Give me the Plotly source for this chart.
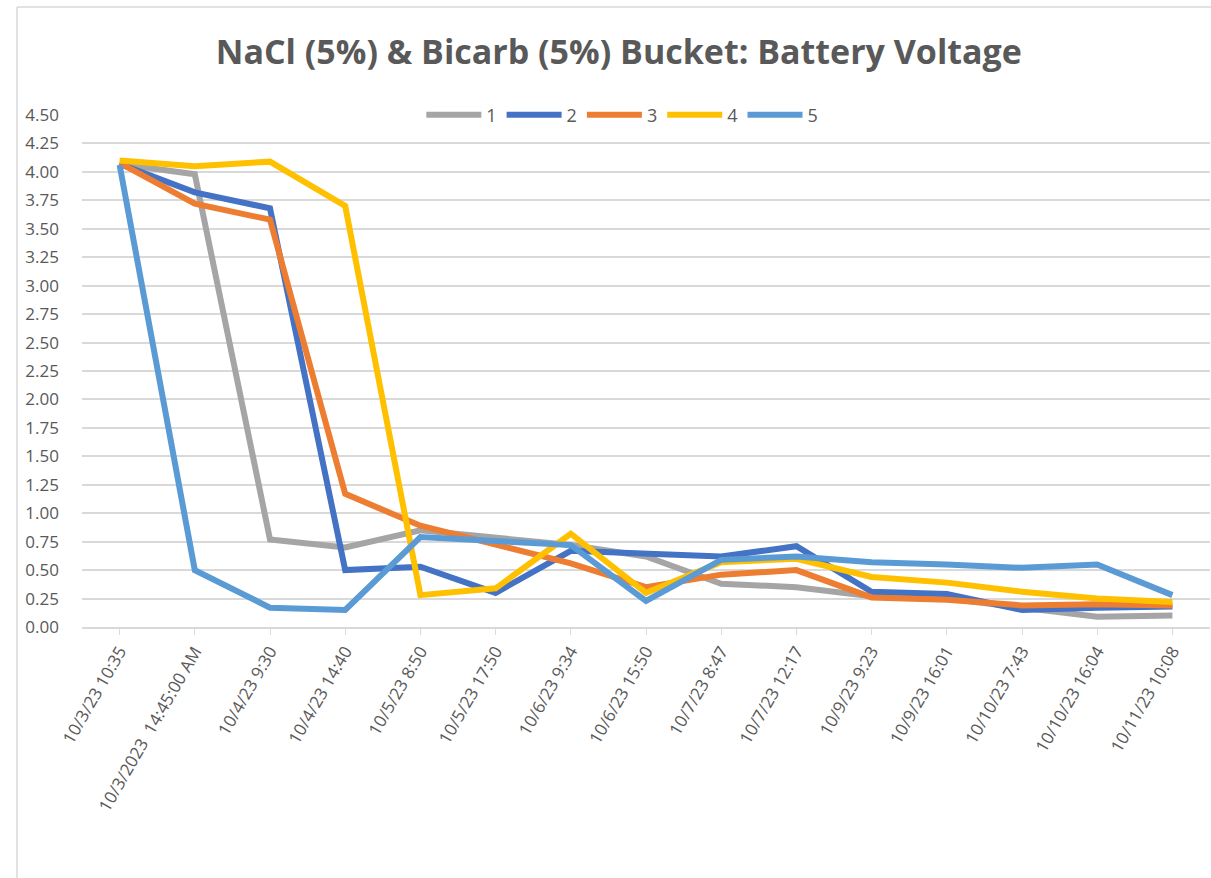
import plotly.graph_objects as go

# category labels along the x axis
timestamps = ["10/3/23 10:35", "10/3/2023  14:45:00 AM", "10/4/23 9:30", "10/4/23 14:40",
              "10/5/23 8:50", "10/5/23 17:50", "10/6/23 9:34", "10/6/23 15:50",
              "10/7/23 8:47", "10/7/23 12:17", "10/9/23 9:23", "10/9/23 16:01",
              "10/10/23 7:43", "10/10/23 16:04", "10/11/23 10:08"]

# battery voltage per sensor
v1 = [4.07, 3.98, 0.77, 0.70, 0.85, 0.78, 0.72, 0.62, 0.38, 0.35, 0.27, 0.25, 0.17, 0.09, 0.10]
v2 = [4.07, 3.82, 3.68, 0.50, 0.53, 0.30, 0.67, 0.65, 0.62, 0.71, 0.31, 0.29, 0.15, 0.17, 0.18]
v3 = [4.08, 3.72, 3.58, 1.17, 0.89, 0.72, 0.56, 0.35, 0.46, 0.50, 0.26, 0.24, 0.19, 0.20, 0.19]
v4 = [4.10, 4.05, 4.09, 3.70, 0.28, 0.34, 0.82, 0.30, 0.57, 0.60, 0.44, 0.39, 0.31, 0.25, 0.22]
v5 = [4.06, 0.50, 0.17, 0.15, 0.79, 0.76, 0.72, 0.23, 0.59, 0.62, 0.57, 0.55, 0.52, 0.55, 0.28]

seriesNames = ["1", "2", "3", "4", "5"]
seriesColors = ["#A5A5A5", "#4472C4", "#ED7D31", "#FFC000", "#5B9BD5"]

fig = go.Figure()
for name, vals, col in zip(seriesNames, [v1, v2, v3, v4, v5], seriesColors):
    fig.add_trace(go.Scatter(x=timestamps, y=vals, name=name, mode="lines",
                             line=dict(color=col, width=6)))

grey = "#595959"
fig.update_layout(
    width=1211, height=878,
    margin=dict(l=82, r=1, t=115, b=251),
    paper_bgcolor="white", plot_bgcolor="white",
    font=dict(family="Open Sans", color=grey),
    title=dict(text="<b>NaCl (5%) & Bicarb (5%) Bucket: Battery Voltage</b>",
               font=dict(size=34, color=grey, family="Open Sans"),
               x=0.511, xref="container", xanchor="center",
               y=1 - 52 / 878, yref="container", yanchor="middle"),
    legend=dict(orientation="h", x=0.479, xanchor="center", y=1.0, yanchor="middle",
                bgcolor="rgba(0,0,0,0)", font=dict(size=18, color=grey),
                itemwidth=55, tracegroupgap=0),
    showlegend=True,
)

fig.update_xaxes(type="category", range=[-0.5, 14.5], tickangle=-60,
                 tickfont=dict(size=17, color=grey),
                 showgrid=False, showline=True, linecolor="#D9D9D9", linewidth=1.5,
                 ticks="outside", ticklen=6, tickcolor="#D9D9D9", zeroline=False)
fig.update_yaxes(range=[0, 4.5], dtick=0.25, tick0=0, tickformat=".2f",
                 tickfont=dict(size=17, color=grey),
                 showgrid=True, gridcolor="#D9D9D9", gridwidth=1.5,
                 zeroline=False, showline=False, ticklabelstandoff=22)

# outer chart frame (left and top edges visible in the crop)
fx = (17 - 82) / 1128
fy = (627 - 7) / 512
fig.add_shape(type="line", xref="paper", yref="paper", x0=fx, y0=fy, x1=1.1, y1=fy,
              line=dict(color="#D9D9D9", width=1.5))
fig.add_shape(type="line", xref="paper", yref="paper", x0=fx, y0=fy, x1=fx, y1=-0.6,
              line=dict(color="#D9D9D9", width=1.5))

fig.write_html("out.html", config={"displayModeBar": False},
               post_script="document.body.style.margin='0';")
